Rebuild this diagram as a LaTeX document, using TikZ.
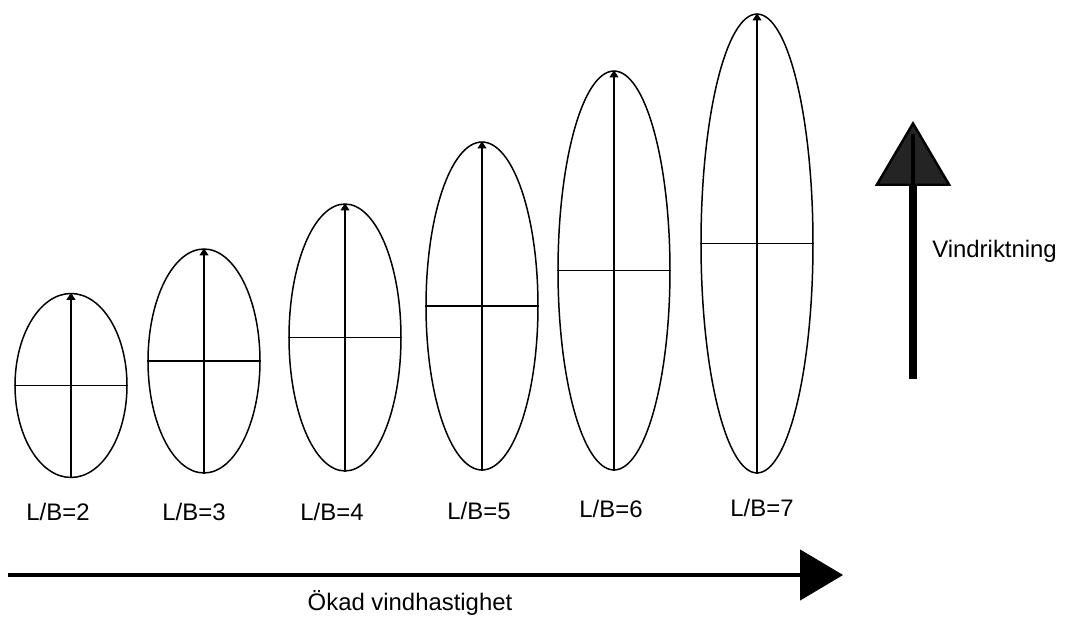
\documentclass[tikz,border=0pt]{standalone}
\usepackage{fontspec}
\setmainfont{Liberation Sans}
\usetikzlibrary{shapes.geometric,arrows.meta}

\begin{document}
\begin{tikzpicture}[x=0.02cm, y=-0.02cm,
  blade/.style={draw, ellipse, line width=0.85pt, inner sep=0pt, minimum width=2.24cm},
  axis/.style={line width=0.6pt, -{Triangle[length=4pt,width=5pt]}},
  cross/.style={line width=0.65pt},
  lbl/.style={anchor=base, inner sep=0pt, font=\fontsize{13.6}{16}\selectfont}]
  \useasboundingbox (0,0) rectangle (1069,617);

  \node[blade, minimum height=3.68cm] (el2) at (71,385.5) {};
  \node[blade, minimum height=4.48cm] (el3) at (204,361) {};
  \node[blade, minimum height=5.34cm] (el4) at (345,337.5) {};
  \node[blade, minimum height=6.56cm] (el5) at (482,306) {};
  \node[blade, minimum height=7.98cm] (el6) at (614,270.5) {};
  \node[blade, minimum height=9.18cm] (el7) at (757,243.5) {};

  \draw[axis] (el2.south) -- (el2.north);  \draw[cross] (el2.west) -- (el2.east);
  \draw[axis] (el3.south) -- (el3.north);  \draw[cross] (el3.west) -- (el3.east);
  \draw[axis] (el4.south) -- (el4.north);  \draw[cross] (el4.west) -- (el4.east);
  \draw[axis] (el5.south) -- (el5.north);  \draw[cross] (el5.west) -- (el5.east);
  \draw[axis] (el6.south) -- (el6.north);  \draw[cross] (el6.west) -- (el6.east);
  \draw[axis] (el7.south) -- (el7.north);  \draw[cross] (el7.west) -- (el7.east);

  \node[lbl] (lb2) at (58,521) {L/B=2};
  \node[lbl] (lb3) at (194,521) {L/B=3};
  \node[lbl] (lb4) at (332,521) {L/B=4};
  \node[lbl] (lb5) at (479,520) {L/B=5};
  \node[lbl] (lb6) at (611,518) {L/B=6};
  \node[lbl] (lb7) at (762,517) {L/B=7};

  \coordinate (speedfoot) at (8,575);
  \coordinate (speedtip) at (843,575);
  \draw[line width=2.3pt, -{Triangle[length=0.86cm,width=1.02cm,line width=0.5pt]}] (speedfoot) -- (speedtip);
  \node[lbl] (speed) at (410,611) {Ökad vindhastighet};

  \coordinate (windfoot) at (913,379);
  \coordinate (windtip) at (913,121);
  \draw[line width=4pt, -{Triangle[length=1.3cm,width=1.52cm,line width=1.4pt,fill=black!86]}] (windfoot) -- (windtip);
  \draw[line width=2pt] (913,186) -- (913,134);
  \node[lbl, anchor=base west] (wind) at (932,258) {Vindriktning};
\end{tikzpicture}
\end{document}
